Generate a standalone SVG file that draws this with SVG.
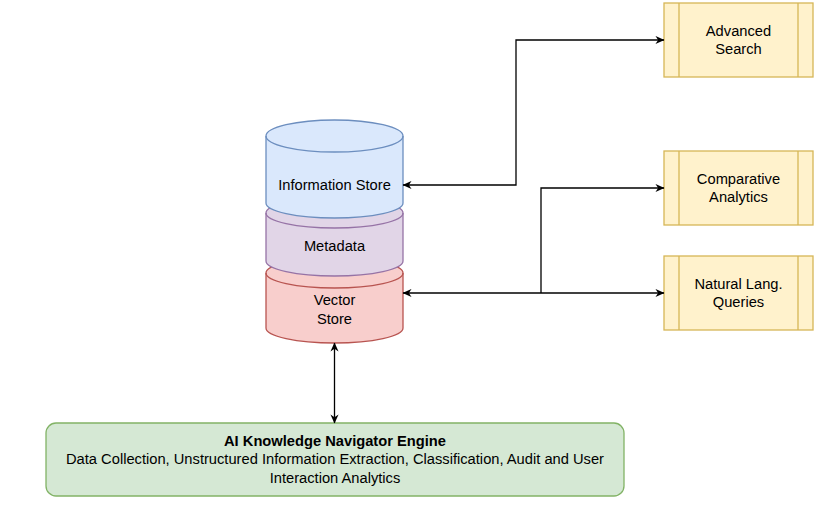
<svg xmlns="http://www.w3.org/2000/svg" width="824" height="531" viewBox="0 0 824 531">
<style>
text{font-family:"Liberation Sans",Arial,Helvetica,sans-serif;font-size:14.7px;fill:#000;text-anchor:middle}
.b{font-weight:bold}
.conn{fill:none;stroke:#000;stroke-width:1.3}
.proc{fill:#fff2cc;stroke:#d6b656;stroke-width:1.3}
</style>
<defs>
<marker id="ah" viewBox="0 0 10 10" refX="9.5" refY="5" markerWidth="10" markerHeight="9" markerUnits="userSpaceOnUse" orient="auto-start-reverse">
<path d="M0,0.5 L10,5 L0,9.5 L3,5 Z" fill="#000"/>
</marker>
</defs>
<rect width="824" height="531" fill="#fff"/>
<g id="vector-store">
<path d="M266,273 A68.5,15 0 0 1 403,273 L403,328 A68.5,15 0 0 1 266,328 Z" fill="#f8cecc" stroke="#b85450" stroke-width="1.3"/>
<path d="M266,273 A68.5,15 0 0 0 403,273" fill="none" stroke="#b85450" stroke-width="1.3"/>
<text x="334.5" y="305">Vector</text>
<text x="334.5" y="324">Store</text>
</g>
<g id="metadata">
<path d="M266,213 A68.5,15 0 0 1 403,213 L403,261 A68.5,15 0 0 1 266,261 Z" fill="#e1d5e7" stroke="#9673a6" stroke-width="1.3"/>
<path d="M266,213 A68.5,15 0 0 0 403,213" fill="none" stroke="#9673a6" stroke-width="1.3"/>
<text x="334.5" y="251">Metadata</text>
</g>
<g id="information-store">
<path d="M266,136 A68.5,16 0 0 1 403,136 L403,203 A68.5,15 0 0 1 266,203 Z" fill="#dae8fc" stroke="#6c8ebf" stroke-width="1.3"/>
<path d="M266,136 A68.5,16 0 0 0 403,136" fill="none" stroke="#6c8ebf" stroke-width="1.3"/>
<text x="334.5" y="190">Information Store</text>
</g>
<g id="advanced-search">
<rect class="proc" x="664" y="3" width="149" height="74"/>
<line class="proc" x1="679" y1="3" x2="679" y2="77"/>
<line class="proc" x1="798" y1="3" x2="798" y2="77"/>
<text x="738.5" y="36">Advanced</text>
<text x="738.5" y="54">Search</text>
</g>
<g id="comparative-analytics">
<rect class="proc" x="664" y="151" width="149" height="74"/>
<line class="proc" x1="679" y1="151" x2="679" y2="225"/>
<line class="proc" x1="798" y1="151" x2="798" y2="225"/>
<text x="738.5" y="184">Comparative</text>
<text x="738.5" y="202">Analytics</text>
</g>
<g id="natural-lang-queries">
<rect class="proc" x="664" y="256" width="149" height="74"/>
<line class="proc" x1="679" y1="256" x2="679" y2="330"/>
<line class="proc" x1="798" y1="256" x2="798" y2="330"/>
<text x="738.5" y="289">Natural Lang.</text>
<text x="738.5" y="307">Queries</text>
</g>
<g id="engine">
<rect x="46" y="423" width="578" height="73" rx="10" ry="10" fill="#d5e8d4" stroke="#82b366" stroke-width="1.3"/>
<text class="b" x="335" y="446">AI Knowledge Navigator Engine</text>
<text x="335" y="464">Data Collection, Unstructured Information Extraction, Classification, Audit and User</text>
<text x="335" y="483">Interaction Analytics</text>
</g>
<g id="connectors">
<path class="conn" d="M403,185 L516,185 L516,40 L664,40" marker-start="url(#ah)" marker-end="url(#ah)"/>
<path class="conn" d="M403,293 L664,293" marker-start="url(#ah)" marker-end="url(#ah)"/>
<path class="conn" d="M541,293 L541,188 L664,188" marker-end="url(#ah)"/>
<path class="conn" d="M334.5,343 L334.5,423" marker-start="url(#ah)" marker-end="url(#ah)"/>
</g>
</svg>
